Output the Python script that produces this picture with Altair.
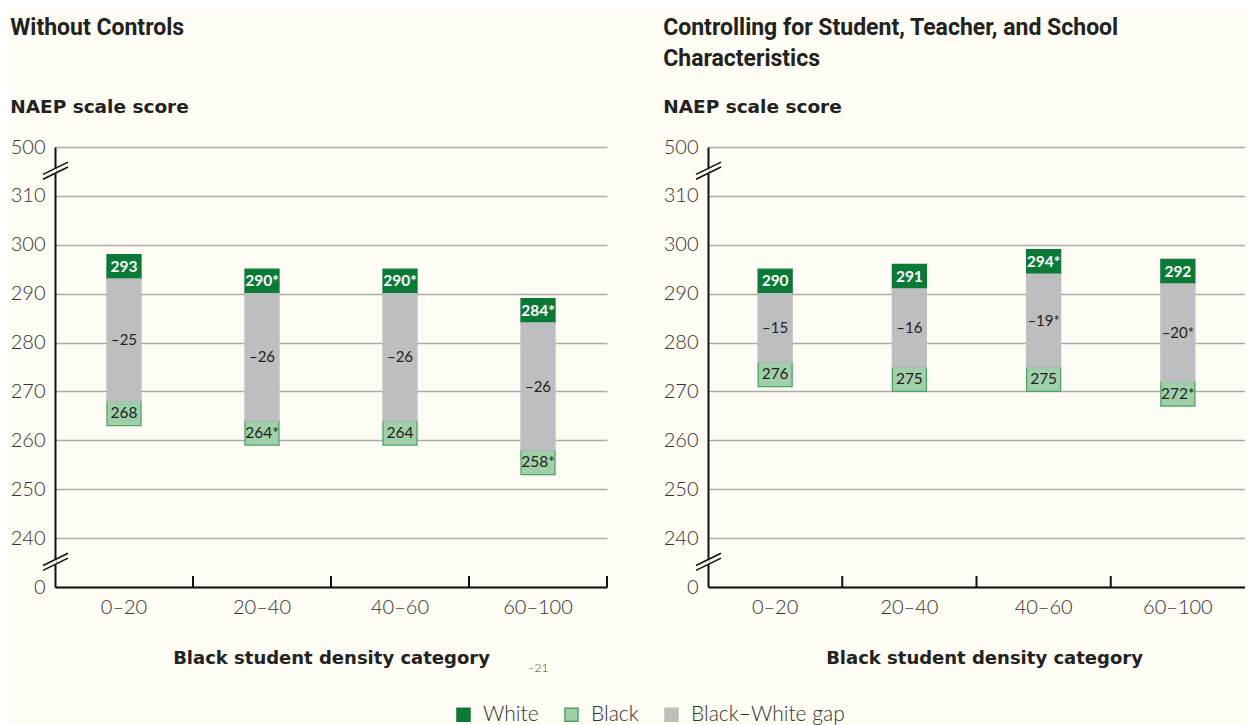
import altair as alt
import pandas as pd

categories = ["0–20", "20–40", "40–60", "60–100"]

left_white = [293, 290, 290, 284]
left_white_lbl = ["293", "290*", "290*", "284*"]
left_black = [268, 264, 264, 258]
left_black_lbl = ["268", "264*", "264", "258*"]
left_gap_lbl = ["–25", "–26", "–26", "–26"]

right_white = [290, 291, 294, 292]
right_white_lbl = ["290", "291", "294*", "292"]
right_black = [276, 275, 275, 272]
right_black_lbl = ["276", "275", "275", "272*"]
right_gap_lbl = ["–15", "–16", "–19*", "–20*"]

series = ["White", "Black", "Black–White gap"]
y_ticks = [230, 240, 250, 260, 270, 280, 290, 300, 310, 320]
breaks = [235, 315]

BG = "#FEFCF4"
C_WHITE = "#0B7A37"
C_BLACK = "#A1CFA9"
C_BLACK_STROKE = "#4AA661"
C_GAP = "#BDBEC0"
BOX = 5

LIGHT = "Lato"
BOLDF = "DejaVu Sans"
TITLEF = "Roboto"

W, H = 552, 440
W_RIGHT = 537  # right panel is cut by the window edge, as in the reference

yscale = alt.Scale(domain=[230, 320], nice=False, zero=False)


def panel(title_lines, white, wlbl, black, blbl, glbl, width, xscale,
          tick_cats, stray=None):
    rows = []
    for c, w, b in zip(categories, white, black):
        rows.append({"cat": c, "series": "White", "y0": w, "y1": w + BOX})
        rows.append({"cat": c, "series": "Black", "y0": b - BOX, "y1": b})
        rows.append({"cat": c, "series": "Black–White gap", "y0": b, "y1": w})
    bars_df = pd.DataFrame(rows)
    lbl_df = pd.DataFrame({
        "cat": categories, "white": white, "black": black,
        "wlbl": wlbl, "blbl": blbl, "glbl": glbl,
    })

    base_x = alt.X("cat:N", scale=xscale, sort=categories,
                   axis=alt.Axis(title="Black student density category", ticks=False,
                                 labelAngle=0, labelFont=LIGHT, labelFontWeight=300,
                                 labelFontSize=20, labelColor="#333333", labelPadding=10,
                                 domainColor="#111111", domainWidth=2,
                                 titleFont=BOLDF, titleFontWeight="bold", titleFontSize=18,
                                 titleColor="#222222", titlePadding=32, titleX=W / 2,
                                 grid=False))
    base_y = alt.Y("y0:Q", scale=yscale,
                   axis=alt.Axis(title=None, values=y_ticks, ticks=False,
                                 labelExpr="datum.value == 230 ? '0' : (datum.value == 320 ? '500' : datum.label)",
                                 labelFont=LIGHT, labelFontWeight=300, labelFontSize=20,
                                 labelColor="#333333", labelPadding=10,
                                 domainColor="#111111", domainWidth=2,
                                 grid=True, gridColor="#ABABAB", gridWidth=1.5))

    bars = alt.Chart(bars_df).mark_bar(width=34, strokeWidth=1.3).encode(
        x=base_x,
        y=base_y,
        y2="y1:Q",
        color=alt.Color("series:N", title=None,
                        scale=alt.Scale(domain=series, range=[C_WHITE, C_BLACK, C_GAP]),
                        legend=alt.Legend(orient="none", direction="horizontal",
                                          legendX=398, legendY=557, padding=0,
                                          symbolType="square", symbolSize=170,
                                          symbolStrokeWidth=1.5,
                                          labelFont=LIGHT, labelFontWeight=300,
                                          labelFontSize=21, labelColor="#333333",
                                          labelOffset=9, columnPadding=22)),
        stroke=alt.Stroke("series:N", title=None,
                          scale=alt.Scale(domain=series,
                                          range=[C_WHITE, C_BLACK_STROKE, C_GAP])),
    )

    wtext = alt.Chart(lbl_df).transform_calculate(
        ym=f"datum.white + {BOX}/2"
    ).mark_text(font=LIGHT, fontWeight="bold", fontSize=15.5, color="white").encode(
        x=alt.X("cat:N", scale=xscale, sort=categories),
        y=alt.Y("ym:Q", scale=yscale), text="wlbl:N")
    btext = alt.Chart(lbl_df).transform_calculate(
        ym=f"datum.black - {BOX}/2"
    ).mark_text(font=LIGHT, fontSize=15.5, color="#222222").encode(
        x=alt.X("cat:N", scale=xscale, sort=categories),
        y=alt.Y("ym:Q", scale=yscale), text="blbl:N")
    gtext = alt.Chart(lbl_df).transform_calculate(
        ym="(datum.white + datum.black) / 2"
    ).mark_text(font=LIGHT, fontSize=15, color="#222222").encode(
        x=alt.X("cat:N", scale=xscale, sort=categories),
        y=alt.Y("ym:Q", scale=yscale), text="glbl:N")

    xticks = alt.Chart(pd.DataFrame({"cat": tick_cats})).mark_rule(
        color="#111111", strokeWidth=2).encode(
        x=alt.X("cat:N", scale=xscale, sort=categories, bandPosition=1),
        y=alt.value(H), y2=alt.value(H - 11))

    brk_df = pd.DataFrame({"b": breaks})
    brk1 = alt.Chart(brk_df).transform_calculate(
        ya="datum.b - 1.6", yb="datum.b + 0.9"
    ).mark_rule(color="#111111", strokeWidth=1.6).encode(
        x=alt.value(-12), x2=alt.value(13),
        y=alt.Y("ya:Q", scale=yscale), y2="yb:Q")
    brk2 = alt.Chart(brk_df).transform_calculate(
        ya="datum.b - 0.6", yb="datum.b + 1.9"
    ).mark_rule(color="#111111", strokeWidth=1.6).encode(
        x=alt.value(-12), x2=alt.value(13),
        y=alt.Y("ya:Q", scale=yscale), y2="yb:Q")
    brkfill = alt.Chart(brk_df).transform_calculate(
        ya="datum.b - 0.5", yb="datum.b + 0.7"
    ).mark_rule(color=BG, strokeWidth=3).encode(
        x=alt.value(0), y=alt.Y("ya:Q", scale=yscale), y2="yb:Q")

    layers = [bars, wtext, btext, gtext, xticks, brkfill, brk1, brk2]
    if stray:
        sdf = pd.DataFrame({"cat": [stray[0]], "t": [stray[1]]})
        layers.append(alt.Chart(sdf).mark_text(font=LIGHT, fontWeight=300, fontSize=12,
                                              baseline="middle",
                                              color="#444444").encode(
            x=alt.X("cat:N", scale=xscale, sort=categories),
            y=alt.value(H + 81), text="t:N"))

    return alt.layer(*layers).properties(
        width=width, height=H,
        title=alt.TitleParams(
            text=title_lines, subtitle="NAEP scale score", anchor="start", frame="bounds",
            font=TITLEF, fontWeight="bold", fontSize=23, lineHeight=31,
            color="#222222", subtitleFont=BOLDF, subtitleFontWeight="bold",
            subtitleFontSize=18.5, subtitleColor="#222222", subtitlePadding=27,
            offset=21),
    )


xscale_left = alt.Scale(domain=categories, paddingInner=0, paddingOuter=0)
xscale_right = alt.Scale(domain=categories, paddingInner=0, paddingOuter=0)

left = panel(["Without Controls", " "], left_white, left_white_lbl, left_black,
             left_black_lbl, left_gap_lbl, W, xscale_left, categories,
             stray=("60–100", "–21"))
right = panel(["Controlling for Student, Teacher, and School", "Characteristics"],
              right_white, right_white_lbl, right_black, right_black_lbl, right_gap_lbl,
              W_RIGHT, xscale_right, categories[:3])

chart = alt.hconcat(left, right, spacing=55).resolve_scale(x="independent").properties(
    background=BG,
    padding={"left": 2, "top": 8, "right": 0, "bottom": 0},
).configure_view(stroke=None).configure_scale(bandPaddingInner=0)

chart.save("out.html", embed_options={"renderer": "svg", "actions": False})
